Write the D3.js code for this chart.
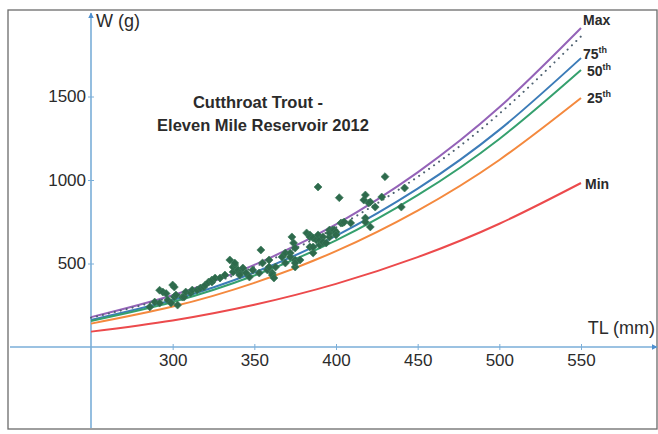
<!DOCTYPE html>
<html>
<head>
  <script src="https://d3js.org/d3.v7.min.js"></script>
  <style>
    body { margin: 0; background: #fff; }
    text { font-family: "Liberation Sans", Arial, sans-serif; fill: #2b2b2b; }
    .tick line { stroke: #7aaed8; }
    .tick text { font-size: 17px; }
    .curve { fill: none; stroke-width: 2px; }
    .lbl { font-size: 14px; font-weight: bold; }
  </style>
</head>
<body>
<svg width="658" height="434"></svg>
<script>
  // standard weight curves at these lengths (mm)
  var lengths = [250, 300, 350, 400, 450, 500, 550];
  var maxW  = [179, 310, 492, 735, 1046, 1435, 1910];
  var dotW  = [175, 302, 479, 716, 1019, 1397, 1860];
  var p75W  = [162, 281, 446, 666, 948, 1300, 1730];
  var p50W  = [156, 269, 428, 638, 909, 1246, 1659];
  var p25W  = [140, 242, 384, 574, 817, 1120, 1491];
  var minW  = [92, 159, 253, 378, 538, 738, 982];

  var xTicks = [300, 350, 400, 450, 500, 550];
  var yTicks = [500, 1000, 1500];

  // sampled fish: total length (mm) and weight (g)
  var fishTL = [286, 289, 292, 292, 294, 296, 297, 299, 300, 301, 301, 302, 303, 306, 307, 308,
    311, 312, 315, 317, 319, 320, 322, 324, 324, 326, 329, 332, 335, 337, 337, 338, 338, 340,
    341, 341, 343, 345, 347, 349, 353, 354, 355, 358, 359, 359, 361, 361, 362, 363, 367, 369,
    369, 372, 372, 373, 374, 375, 375, 375, 375, 378, 382, 384, 384, 384, 386, 386, 386, 388,
    389, 389, 390, 390, 392, 392, 392, 394, 396, 396, 396, 398, 399, 400, 400, 402, 403, 404,
    405, 409, 417, 418, 418, 418, 420, 421, 421, 424, 428, 430, 440, 442];
  var fishW = [240, 269, 263, 340, 329, 320, 281, 263, 371, 300, 359, 311, 251, 299, 299, 329,
    323, 341, 341, 353, 359, 371, 389, 389, 401, 413, 413, 431, 521, 449, 479, 491, 503, 461,
    443, 431, 473, 443, 419, 461, 443, 581, 503, 461, 479, 521, 443, 431, 413, 479, 539, 503,
    563, 563, 539, 659, 623, 593, 521, 479, 503, 521, 683, 671, 599, 659, 563, 599, 653, 641,
    958, 671, 641, 611, 659, 623, 629, 623, 659, 700, 683, 700, 700, 689, 671, 894, 742, 743,
    748, 743, 880, 910, 772, 748, 862, 868, 719, 838, 898, 1020, 838, 952];

  var curves = [
    { name: "Max", values: maxW, color: "#9463b8", dash: null },
    { name: "dot", values: dotW, color: "#4f6272", dash: "0.1,6" },
    { name: "75", values: p75W, color: "#3c7cb8", dash: null },
    { name: "50", values: p50W, color: "#35a06e", dash: null },
    { name: "25", values: p25W, color: "#f4893e", dash: null },
    { name: "Min", values: minW, color: "#ec4a4c", dash: null }
  ];

  var svg = d3.select("svg");
  var axisColor = "#7aaed8";

  var x = d3.scaleLinear().domain([250, 550]).range([91, 581]);
  var y = d3.scaleLinear().domain([0, 2000]).range([347, 13]);

  // scanned frame
  svg.append("rect")
    .attr("x", 8).attr("y", 10)
    .attr("width", 649).attr("height", 419)
    .attr("fill", "none")
    .attr("stroke", "#6b6b6b")
    .attr("stroke-width", 1.3);

  var defs = svg.append("defs");
  defs.append("marker")
    .attr("id", "arrow")
    .attr("viewBox", "0 0 10 10")
    .attr("refX", 9).attr("refY", 5)
    .attr("markerWidth", 3.5).attr("markerHeight", 3.5)
    .attr("orient", "auto")
    .append("path")
    .attr("d", "M0,0L10,5L0,10z")
    .attr("fill", "#4d8fcf");

  // axis lines crossing at the origin
  svg.append("line")
    .attr("x1", 10).attr("x2", 657)
    .attr("y1", y(0)).attr("y2", y(0))
    .attr("stroke", axisColor).attr("stroke-width", 1.6)
    .attr("marker-end", "url(#arrow)");
  svg.append("line")
    .attr("x1", x(250)).attr("x2", x(250))
    .attr("y1", 428).attr("y2", y(2000))
    .attr("stroke", axisColor).attr("stroke-width", 1.6)
    .attr("marker-end", "url(#arrow)");

  var xAxis = d3.axisBottom(x).tickValues(xTicks).tickSize(6).tickPadding(4);
  svg.append("g")
    .attr("transform", "translate(0," + (y(0) - 3) + ")")
    .call(xAxis)
    .call(function(g) { g.select(".domain").remove(); });

  var yAxis = d3.axisLeft(y).tickValues(yTicks).tickSize(6).tickPadding(2)
    .tickFormat(d3.format("d"));
  svg.append("g")
    .attr("transform", "translate(" + (x(250) + 3) + ",0)")
    .call(yAxis)
    .call(function(g) { g.select(".domain").remove(); });

  svg.append("text")
    .attr("x", 96).attr("y", 27)
    .style("font-size", "18px")
    .text("W (g)");
  svg.append("text")
    .attr("x", 655).attr("y", 334)
    .attr("text-anchor", "end")
    .style("font-size", "18px")
    .text("TL (mm)");

  // title
  var title = svg.append("text")
    .attr("text-anchor", "middle")
    .style("font-size", "16.5px")
    .style("font-weight", "bold");
  title.append("tspan").attr("x", 258).attr("y", 108).text("Cutthroat Trout -");
  title.append("tspan").attr("x", 263).attr("y", 131).text("Eleven Mile Reservoir 2012");

  var line = d3.line()
    .x(function(d) { return x(d[0]); })
    .y(function(d) { return y(d[1]); })
    .curve(d3.curveNatural);

  svg.selectAll(".curve")
    .data(curves)
    .enter().append("path")
    .attr("class", "curve")
    .attr("d", function(c) { return line(d3.zip(lengths, c.values)); })
    .attr("stroke", function(c) { return c.color; })
    .attr("stroke-width", function(c) { return c.dash ? 3.2 : 2.1; })
    .attr("stroke-linecap", function(c) { return c.dash ? "round" : "butt"; })
    .attr("stroke-dasharray", function(c) { return c.dash; });

  // fish points
  var diamond = d3.symbol().type(d3.symbolSquare).size(32);
  svg.selectAll(".fish")
    .data(d3.zip(fishTL, fishW))
    .enter().append("path")
    .attr("class", "fish")
    .attr("d", diamond)
    .attr("transform", function(d) {
      return "translate(" + x(d[0]) + "," + y(d[1]) + ") rotate(45)";
    })
    .attr("fill", "#2e6a4c")
    .attr("stroke", "#3b7a5a")
    .attr("stroke-width", 0.6);

  // curve labels
  var labels = [
    { main: "Max", sup: "", x: 583, y: 25 },
    { main: "75", sup: "th", x: 583, y: 59 },
    { main: "50", sup: "th", x: 587, y: 76 },
    { main: "25", sup: "th", x: 587, y: 103 },
    { main: "Min", sup: "", x: 585, y: 189 }
  ];
  labels.forEach(function(l) {
    var t = svg.append("text").attr("class", "lbl").attr("x", l.x).attr("y", l.y).text(l.main);
    if (l.sup) {
      t.append("tspan").attr("dy", -6).style("font-size", "9px").text(l.sup);
    }
  });
</script>
</body>
</html>
